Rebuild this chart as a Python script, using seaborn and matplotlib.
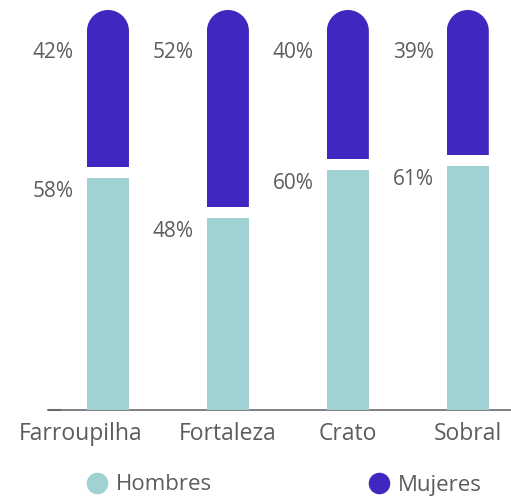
import numpy as np
import pandas as pd
import seaborn as sns
import matplotlib.pyplot as plt
import matplotlib.transforms as mtransforms
from matplotlib.path import Path
from matplotlib.patches import PathPatch
from matplotlib.lines import Line2D

ciudades = ['Farroupilha', 'Fortaleza', 'Crato', 'Sobral']
hombres = [58, 48, 60, 61]
mujeres = [42, 52, 40, 39]

color_h = '#A0D1D3'
color_m = '#3F28C0'
gris = '#5c5c5c'

data = pd.DataFrame({'ciudad': ciudades, 'hombres': hombres, 'mujeres': mujeres})
data['total'] = data['hombres'] + data['mujeres']
gap = 2.75  # white space between segments, in % units
data['blanco'] = data['hombres'] + gap

sns.set_style('white')
plt.rcParams['font.family'] = ['Open Sans', 'DejaVu Sans']

fig = plt.figure(figsize=(5.11, 4.96), dpi=100)
ax = fig.add_axes([48 / 511, 86 / 496, 463 / 511, 400 / 496])

# purple full bars, then white cover for the gap, then teal
sns.barplot(data=data, x='ciudad', y='total', color=color_m, width=0.35,
            saturation=1, ax=ax, zorder=1)
n_m = len(ax.patches)
sns.barplot(data=data, x='ciudad', y='blanco', color='white', width=0.4,
            saturation=1, ax=ax, zorder=2)
sns.barplot(data=data, x='ciudad', y='hombres', color=color_h, width=0.35,
            saturation=1, ax=ax, zorder=3)

ax.set_xlim(-0.5, 3.36)
ax.set_ylim(0, 100)

# round the top of the purple bars with a semicircle clip
fig.canvas.draw()
for p in ax.patches[:n_m]:
    p.set_linewidth(0)
    ext = p.get_window_extent()
    x0, x1, y0, y1 = ext.x0, ext.x1, ext.y0, ext.y1
    r = (x1 - x0) / 2
    t = np.linspace(0, np.pi, 60)
    arc = np.column_stack([x0 + r + r * np.cos(t), y1 - r + r * np.sin(t)])
    verts = np.vstack([[x1, y0], [x1, y1 - r], arc, [x0, y0], [x1, y0]])
    clip = PathPatch(Path(verts), transform=mtransforms.IdentityTransform(),
                     facecolor='none', edgecolor='none')
    p.set_clip_path(clip)
for p in ax.patches[n_m:]:
    p.set_linewidth(0)

# percentage labels to the left of bars
for i, (h, m) in enumerate(zip(hombres, mujeres)):
    x_txt = i - 0.175 - 0.11
    ax.text(x_txt, h - 3.3, f'{h}%', ha='right', va='center', fontsize=15, color=gris)
    ax.text(x_txt, 89.5, f'{m}%', ha='right', va='center', fontsize=15, color=gris)

sns.despine(ax=ax, left=True, top=True, right=True)
ax.spines['bottom'].set_color('#6a6a6a')
ax.spines['bottom'].set_linewidth(1.2)
ax.set_xlabel('')
ax.set_ylabel('')
ax.set_yticks([0])
ax.set_yticklabels([''])
ax.tick_params(axis='y', direction='in', length=9, color='#6a6a6a', width=1.5, left=True)
ax.tick_params(axis='x', length=0, labelsize=16.5, labelcolor=gris, pad=9)
# first label sits shifted left in the original
first = ax.get_xticklabels()[0]
first.set_transform(first.get_transform() +
                    mtransforms.ScaledTranslation(-27 / 100, 0, fig.dpi_scale_trans))

handles = [Line2D([], [], marker='o', ls='', markersize=14.5, color=color_h),
           Line2D([], [], marker='o', ls='', markersize=14.5, color=color_m)]
fig.legend(handles, ['Hombres', 'Mujeres'], loc='center left', bbox_to_anchor=(84 / 511, 11 / 496),
           ncol=2, frameon=False, fontsize=16, labelcolor=gris, handletextpad=0.25,
           columnspacing=6.9, handlelength=1.2, borderaxespad=0, borderpad=0)

fig.savefig('out.png', dpi=100)
